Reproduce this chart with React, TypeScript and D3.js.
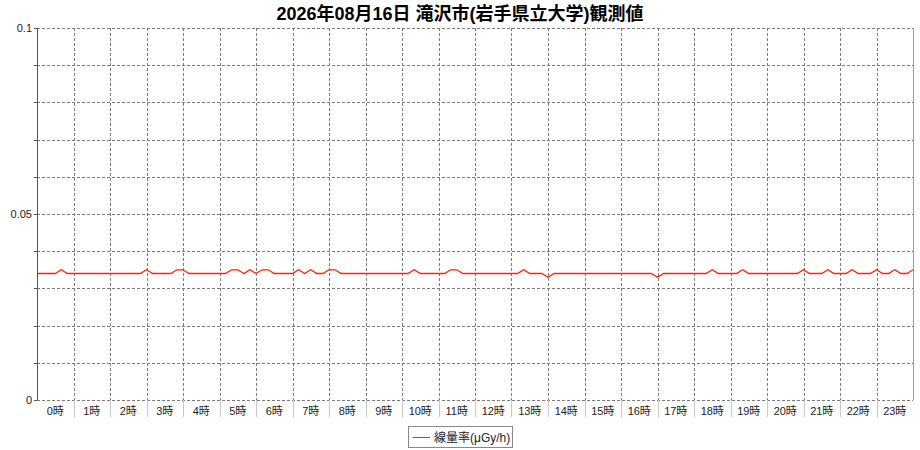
import React from "react";
import * as d3 from "d3";

const TITLE = "2026年08月16日 滝沢市(岩手県立大学)観測値";
const SERIES_NAME = "線量率(μGy/h)";
const HOURS = ["0時","1時","2時","3時","4時","5時","6時","7時","8時","9時","10時","11時","12時","13時","14時","15時","16時","17時","18時","19時","20時","21時","22時","23時"];
const Y_TICK_LABELS = [0, 0.05, 0.1];
const Y_GRID = [0, 0.01, 0.02, 0.03, 0.04, 0.05, 0.06, 0.07, 0.08, 0.09, 0.1];

// 10-minute readings (µGy/h), 00:00 .. 24:00
const DOSE = [
  0.034,0.034,0.034,0.034,0.035,0.034,
  0.034,0.034,0.034,0.034,0.034,0.034,
  0.034,0.034,0.034,0.034,0.034,0.034,
  0.035,0.034,0.034,0.034,0.034,0.035,
  0.035,0.034,0.034,0.034,0.034,0.034,
  0.034,0.034,0.035,0.035,0.034,0.035,
  0.034,0.035,0.035,0.034,0.034,0.034,
  0.034,0.035,0.034,0.035,0.034,0.034,
  0.035,0.035,0.034,0.034,0.034,0.034,
  0.034,0.034,0.034,0.034,0.034,0.034,
  0.034,0.034,0.035,0.034,0.034,0.034,
  0.034,0.034,0.035,0.035,0.034,0.034,
  0.034,0.034,0.034,0.034,0.034,0.034,
  0.034,0.034,0.035,0.034,0.034,0.034,
  0.033,0.034,0.034,0.034,0.034,0.034,
  0.034,0.034,0.034,0.034,0.034,0.034,
  0.034,0.034,0.034,0.034,0.034,0.034,
  0.033,0.034,0.034,0.034,0.034,0.034,
  0.034,0.034,0.034,0.035,0.034,0.034,
  0.034,0.034,0.035,0.034,0.034,0.034,
  0.034,0.034,0.034,0.034,0.034,0.034,
  0.035,0.034,0.034,0.034,0.035,0.034,
  0.034,0.034,0.035,0.034,0.034,0.034,
  0.035,0.034,0.034,0.035,0.034,0.034,
  0.035,
];

const W = 920;
const H = 450;
const M = { left: 37, right: 913, top: 28, bottom: 400 };
const FONT = "'Liberation Sans', 'Noto Sans CJK JP', sans-serif";

export default function App() {
  const x = d3.scaleLinear().domain([0, 144]).range([M.left, M.right]);
  const y = d3.scaleLinear().domain([0, 0.1]).range([M.bottom, M.top]);
  const line = d3
    .line<number>()
    .x((_, i) => x(i))
    .y((d) => y(d));
  const gridColor = "#7a7a7a";

  return (
    <svg
      width={W}
      height={H}
      style={{ position: "absolute", left: 0, top: 0, background: "#fff" }}
      shapeRendering="crispEdges"
    >
      <text
        x={W / 2}
        y={20}
        textAnchor="middle"
        fontFamily={FONT}
        fontWeight="bold"
        fontSize={18}
        fill="#000"
      >
        {TITLE}
      </text>

      {/* horizontal grid */}
      {Y_GRID.map((v) => (
        <g key={"h" + v}>
          <line
            x1={M.left}
            x2={M.right}
            y1={Math.round(y(v)) + 0.5}
            y2={Math.round(y(v)) + 0.5}
            stroke={gridColor}
            strokeDasharray="3,2"
          />
          <line
            x1={M.left - 3}
            x2={M.left}
            y1={Math.round(y(v)) + 0.5}
            y2={Math.round(y(v)) + 0.5}
            stroke="#555"
          />
        </g>
      ))}

      {/* vertical grid */}
      {HOURS.map((_, h) => (
        <line
          key={"v" + h}
          x1={Math.round(x(h * 6)) + 0.5}
          x2={Math.round(x(h * 6)) + 0.5}
          y1={M.top}
          y2={M.bottom}
          stroke={gridColor}
          strokeDasharray="3,2"
        />
      ))}

      {/* x category separators */}
      {HOURS.map((_, h) =>
        h === 0 ? null : (
          <line
            key={"s" + h}
            x1={Math.round(x(h * 6)) + 0.5}
            x2={Math.round(x(h * 6)) + 0.5}
            y1={M.bottom}
            y2={M.bottom + 17}
            stroke="#c8c8c8"
          />
        )
      )}

      {/* axes frame */}
      <line x1={M.left + 0.5} x2={M.left + 0.5} y1={M.top} y2={M.bottom} stroke="#555" />
      <line x1={M.right + 0.5} x2={M.right + 0.5} y1={M.top} y2={M.bottom} stroke="#999" />

      {/* y tick labels */}
      {Y_TICK_LABELS.map((v) => (
        <text
          key={"yl" + v}
          x={M.left - 5}
          y={y(v) + 4}
          textAnchor="end"
          fontFamily={FONT}
          fontSize={11}
          fill="#222"
        >
          {String(v)}
        </text>
      ))}

      {/* x labels */}
      {HOURS.map((lab, h) => (
        <text
          key={"xl" + h}
          x={x(h * 6 + 3)}
          y={M.bottom + 15}
          textAnchor="middle"
          fontFamily={FONT}
          fontSize={11}
          fill="#222"
        >
          {lab}
        </text>
      ))}

      {/* data line */}
      <path
        d={line(DOSE) || ""}
        fill="none"
        stroke="#ff2200"
        strokeWidth={1.3}
        shapeRendering="auto"
      />

      {/* legend */}
      <rect x={408.5} y={426.5} width={104} height={21} fill="#fff" stroke="#888" />
      <line x1={413} x2={430} y1={437.5} y2={437.5} stroke="#ff2200" />
      <text x={434} y={441.5} fontFamily={FONT} fontSize={12} fill="#222">
        {SERIES_NAME}
      </text>
    </svg>
  );
}
